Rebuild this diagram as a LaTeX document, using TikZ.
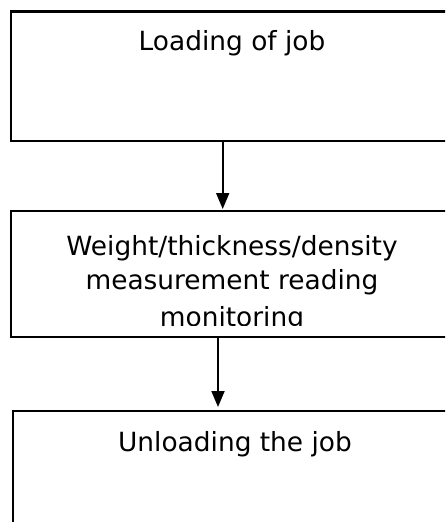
\documentclass[tikz,border=0pt]{standalone}
\usepackage{fontspec}
\setmainfont{DejaVu Sans}
\usetikzlibrary{arrows.meta}
\begin{document}
\begin{tikzpicture}[x=1pt,y=1pt,
  stepbox/.style={draw=black, line width=2.3pt, rectangle, inner sep=0pt,
                  outer sep=0pt, anchor=north west, minimum width=480pt},
  steptext/.style={inner sep=0pt, anchor=base,
                   font=\fontsize{26.4}{32}\selectfont},
  flow/.style={line width=1.8pt, -{Triangle[width=13pt,length=16pt]}}]
\useasboundingbox (0,0) rectangle (445,-522);
\clip (0,0) rectangle (445,-522);

% the three process steps
\node[stepbox, minimum height=129.5pt] (b1) at (11,-11.5) {};
\node[stepbox, minimum height=126pt]   (b2) at (11,-211) {};
\node[stepbox, minimum height=140pt]   (b3) at (13,-411) {};

% step labels
\node[steptext] (t1) at (232,-50) {Loading of job};
\node[steptext] (t2a) at (232,-255) {Weight/thickness/density};
\node[steptext] (t2b) at (232,-289.5) {measurement reading};
\begin{scope}
  \clip ([yshift=11.5pt]b2.south west) rectangle (b2.north east);
  \node[steptext] (t2c) at (232,-326) {monitoring};
\end{scope}
\node[steptext] (t3) at (235,-451) {Unloading the job};

% flow arrows
\draw[flow, shorten >=2pt] ([xshift=211.7pt]b1.south west) -- ([xshift=211.7pt]b2.north west);
\draw[flow, shorten >=4pt] ([xshift=207pt]b2.south west) -- ([xshift=205pt]b3.north west);
\end{tikzpicture}
\end{document}
